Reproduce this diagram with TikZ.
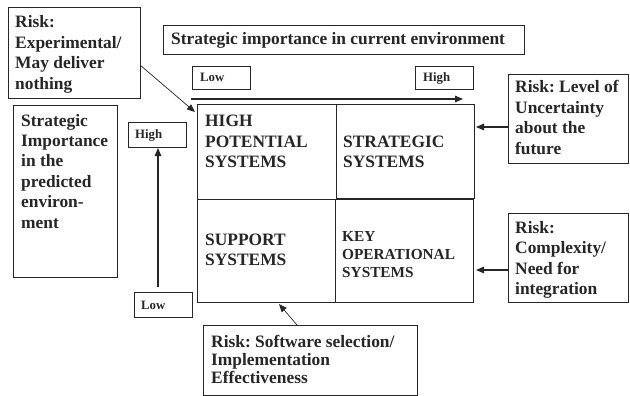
\documentclass[tikz,border=0pt]{standalone}
\usepackage{fontspec}
\setmainfont{Liberation Serif}
\usetikzlibrary{arrows.meta}
\frenchspacing
\newcommand{\pb}[1]{\parbox[t]{200pt}{#1}}
\tikzset{
  box/.style={draw=black!85, line width=1.1pt, inner sep=0pt, anchor=north west},
  txt/.style={anchor=base west, inner sep=0pt, text=black!85, font=\bfseries\fontsize{17.4}{20.5}\selectfont},
  smalltxt/.style={anchor=base west, inner sep=0pt, text=black!85, font=\bfseries\fontsize{12.8}{15}\selectfont},
  arr/.style={draw=black!85, line width=1.1pt, -{Triangle[length=8pt,width=6.5pt]}},
  thinarr/.style={draw=black!85, line width=0.7pt, -{Triangle[length=8pt,width=6.5pt]}}
}
\begin{document}
\begin{tikzpicture}[x=1pt,y=-1pt]
\useasboundingbox[fill=white] (0,0) rectangle (630,396);
% boxes
\node[box, minimum width=132pt, minimum height=91pt] (rexp) at (8,7) {};
\node[box, minimum width=361pt, minimum height=29pt] (title) at (163,25) {};
\node[box, minimum width=58pt, minimum height=23pt] (lowt) at (192,66) {};
\node[box, minimum width=58pt, minimum height=23pt] (hight) at (415,66) {};
\node[box, minimum width=104pt, minimum height=172pt] (spred) at (13,105) {};
\node[box, minimum width=58pt, minimum height=25pt] (highl) at (128,122) {};
\node[box, minimum width=58pt, minimum height=25pt] (lowl) at (134,292) {};
\node[box, minimum width=139pt, minimum height=95pt] (tl) at (197,104) {};
\node[box, minimum width=138pt, minimum height=94pt] (tr) at (336,104) {};
\node[box, minimum width=138pt, minimum height=103pt] (bl) at (197,199) {};
\node[box, minimum width=138pt, minimum height=103pt] (br) at (335,199) {};
\node[box, minimum width=120pt, minimum height=89pt] (rlev) at (508,74) {};
\node[box, minimum width=120pt, minimum height=89pt] (rcom) at (508,213) {};
\node[box, minimum width=214pt, minimum height=70pt] (rsoft) at (203,325) {};
% texts
\node[txt] (trexp) at (15,28) {\pb{Risk:\\Experimental/\\May deliver\\nothing}};
\node[txt] (ttitle) at (171,45) {Strategic importance in current environment};
\node[smalltxt] (tlowt) at (200,82) {Low};
\node[smalltxt] (thight) at (423,82) {High};
\node[txt] (tspred) at (21,126) {\pb{Strategic\\Importance\\in the\\predicted\\environ-\\ment}};
\node[smalltxt] (thighl) at (135,139) {High};
\node[smalltxt] (tlowl) at (141,309) {Low};
\node[txt] (ttl) at (205,127) {\pb{HIGH\\POTENTIAL\\SYSTEMS}};
\node[txt] (ttr) at (343,147) {\pb{STRATEGIC\\SYSTEMS}};
\node[txt] (tbl) at (205,245) {\pb{SUPPORT\\SYSTEMS}};
\node[txt, font=\bfseries\fontsize{15.3}{18}\selectfont] (tbr) at (342,241) {\pb{KEY\\OPERATIONAL\\SYSTEMS}};
\node[txt] (trlev) at (515,93) {\pb{Risk: Level of\\Uncertainty\\about the\\future}};
\node[txt] (trcom) at (515,233) {\pb{Risk:\\Complexity/\\Need for\\integration}};
\node[txt, font=\bfseries\fontsize{17.4}{18}\selectfont] (trsoft) at (211,347) {\pb{Risk: Software selection/\\Implementation\\Effectiveness}};
% connectors
\coordinate (hx0) at (191,99);
\coordinate (hx1) at (463,99);
\draw[arr] (hx0) -- (hx1);
\coordinate (vy0) at (158,287);
\coordinate (vy1) at (158,148);
\draw[arr] (vy0) -- (vy1);
\coordinate (dstart) at (140,65);
\coordinate (dend) at (195,112);
\draw[thinarr] (dstart) -- (dend);
\draw[arr] (rlev.west |- 0,127) -- (476,127);
\draw[arr] (rcom.west |- 0,270) -- (476,270);
\coordinate (bend) at (279,304);
\draw[thinarr] (rsoft.north -| 297,0) -- (bend);
\end{tikzpicture}
\end{document}
